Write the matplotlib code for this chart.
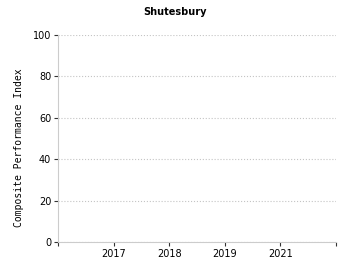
import matplotlib
matplotlib.use("Agg")
import matplotlib.pyplot as plt

# Data: chart has no plotted values, only the year categories
years = ["2017", "2018", "2019", "2021"]
scores = []  # no data shown for Shutesbury
y_ticks = [0, 20, 40, 60, 80, 100]

fig = plt.figure(figsize=(3.5, 2.75), dpi=100)
ax = fig.add_axes([0.166, 0.12, 0.794, 0.753])

positions = list(range(len(years) + 2))
labels = [""] + years + [""]
ax.set_xlim(positions[0], positions[-1])
ax.set_ylim(0, 100)
ax.set_xticks(positions)
ax.set_xticklabels(labels, fontsize=7)
ax.set_yticks(y_ticks)
ax.set_yticklabels([str(v) for v in y_ticks], fontsize=7)

ax.grid(axis="y", linestyle=":", color="#c4c4c4", linewidth=0.8)
ax.set_axisbelow(True)
for side in ["top", "right"]:
    ax.spines[side].set_visible(False)
for side in ["left", "bottom"]:
    ax.spines[side].set_color("#cccccc")
ax.tick_params(length=3, width=0.8, color="#333333", pad=2)

fig.text(0.5, 0.955, "Shutesbury", fontsize=7, fontweight="bold",
         ha="center", va="center")
ax.set_ylabel("Composite Performance Index", fontsize=7,
              family="DejaVu Sans Mono")
ax.yaxis.set_label_coords(-0.122, 0.454)

fig.savefig("out.png", dpi=100)
